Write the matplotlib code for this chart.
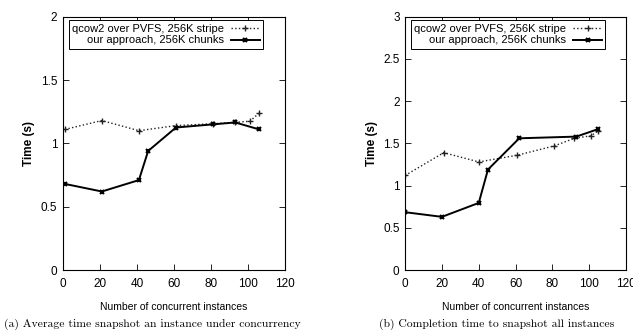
import matplotlib
matplotlib.use("Agg")
import matplotlib.pyplot as plt
from matplotlib.ticker import FuncFormatter

# Data
x_qcow_a = [1, 21, 41, 61, 81, 93, 101, 106]
y_qcow_a = [1.11, 1.18, 1.10, 1.14, 1.155, 1.165, 1.175, 1.24]
x_ours_a = [1, 21, 41, 46, 61, 81, 93, 106]
y_ours_a = [0.68, 0.62, 0.71, 0.94, 1.125, 1.15, 1.165, 1.11]

x_qcow_b = [0, 21, 40, 61, 81, 92, 101, 105]
y_qcow_b = [1.12, 1.39, 1.28, 1.36, 1.47, 1.56, 1.59, 1.65]
x_ours_b = [0, 20, 40, 45, 62, 93, 105]
y_ours_b = [0.685, 0.63, 0.795, 1.19, 1.56, 1.58, 1.67]

x_ticks = [0, 20, 40, 60, 80, 100, 120]
y_ticks_a = [0, 0.5, 1, 1.5, 2]
y_ticks_b = [0, 0.5, 1, 1.5, 2, 2.5, 3]

label_qcow = "qcow2 over PVFS, 256K stripe"
label_ours = "our approach, 256K chunks"
caption_a = "(a) Average time snapshot an instance under concurrency"
caption_b = "(b) Completion time to snapshot all instances"

plt.rcParams['font.family'] = ['Liberation Sans', 'DejaVu Sans']

fig = plt.figure(figsize=(6.33, 3.33), dpi=100)
ax_a = fig.add_axes([0.0995, 0.189, 0.351, 0.761])
ax_b = fig.add_axes([0.640, 0.189, 0.349, 0.761])

fmt = FuncFormatter(lambda v, p: "%g" % v)


def draw_panel(ax, xq, yq, xo, yo, yticks, ymax):
    ax.plot(xq, yq, color="#222222", linestyle=":", linewidth=1.0,
            marker="+", markersize=4, markeredgewidth=1.0, label=label_qcow)
    ax.plot(xo, yo, color="black", linestyle="-", linewidth=1.4,
            marker="x", markersize=3, markeredgewidth=1.5, label=label_ours)
    ax.set_xlim(0, 120)
    ax.set_ylim(0, ymax)
    ax.set_xticks(x_ticks)
    ax.set_yticks(yticks)
    ax.yaxis.set_major_formatter(fmt)
    ax.tick_params(direction="in", top=True, right=True, labelsize=8.5,
                   length=4, width=0.6)
    ax.tick_params(axis="x", pad=6)
    ax.tick_params(axis="y", pad=4)
    for s in ax.spines.values():
        s.set_linewidth(0.8)
    ax.set_xlabel("Number of concurrent instances", fontsize=7.5, labelpad=8)
    ax.set_ylabel("Time (s)", fontsize=8.5, fontweight="bold", labelpad=4)
    leg = ax.legend(loc="upper left", bbox_to_anchor=(0.027, 0.985),
                    markerfirst=False, fontsize=8, frameon=True,
                    fancybox=False, edgecolor="black", framealpha=1,
                    borderpad=0.3, labelspacing=0.15, handlelength=2.6,
                    handletextpad=0.6, borderaxespad=0)
    leg.get_frame().set_linewidth(0.7)
    # right-align legend entries like gnuplot
    leg._legend_box.get_children()[-1].get_children()[0].align = "right"


draw_panel(ax_a, x_qcow_a, y_qcow_a, x_ours_a, y_ours_a, y_ticks_a, 2)
draw_panel(ax_b, x_qcow_b, y_qcow_b, x_ours_b, y_ours_b, y_ticks_b, 3)

fig.text(0.006, 0.027, caption_a, ha="left", va="center",
         fontsize=8.4, family="cmr10")
fig.text(0.599, 0.027, caption_b, ha="left", va="center",
         fontsize=8.4, family="cmr10")

fig.savefig("out.png", dpi=100)
